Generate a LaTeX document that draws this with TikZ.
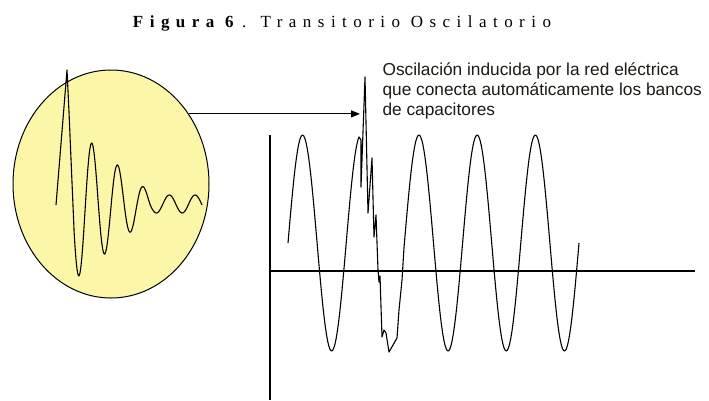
\documentclass[tikz,border=0pt]{standalone}
\usepackage{fontspec}
\setmainfont{Liberation Serif}
\newfontfamily\labelfont{Liberation Sans}
\newfontfamily\titlefont[LetterSpace=38]{Liberation Serif}
\usetikzlibrary{positioning,shapes.geometric,arrows.meta}
\definecolor{bubblefill}{RGB}{252,247,168}
\definecolor{labeltext}{RGB}{30,25,20}

\begin{document}
\begin{tikzpicture}[x=1pt,y=-1pt,line width=1.1pt,
  bubble/.style={ellipse,draw,line width=1pt,fill=bubblefill,minimum width=196pt,minimum height=228pt,inner sep=0pt},
  wave/.style={line width=1.1pt,line join=round},
  axisline/.style={line width=1.1pt},
  pointer/.style={line width=1pt,-{Triangle[length=9pt,width=7pt]}}]
  \useasboundingbox (0,0) rectangle (709,400);
  % title
  \node[anchor=base,inner sep=0pt] (title) at (342,27)
    {\fontsize{17}{19}\titlefont\textbf{Figura 6}\kern0.12em. Transitorio Oscilatorio};
  % zoomed view of the transient
  \node[bubble] (bubble) at (111,184) {};
  \draw[wave] (56,205) -- (67,70) -- (69,112) -- (74,229)
    -- plot[domain=74:202,samples=130] (\x,{204+max(9,66-0.85*(\x-86))*cos((\x-79)/25.8*360)});
  % axes
  \coordinate (origin) at (270,271);
  \coordinate (ytop) at (270,135);
  \coordinate (ybot) at (270,400);
  \coordinate (xend) at (695,271);
  \draw[axisline] (ytop) -- (ybot);
  \draw[axisline] (origin) -- (xend);
  % voltage wave with the switching transient
  \draw[wave] plot[domain=288:359,samples=60] (\x,{243-108*sin((\x-288)/58.2*360)})
    -- (361,140) -- (361,187) -- (365,77) -- (368,213) -- (372,158) -- (374,237)
    -- (376,215) -- (378,270) -- (379,282) -- (380,276) -- (382,337) -- (384,330)
    -- (386,333) -- (389,352) -- (393,345) -- (397,338) -- (399,310) -- (402,280)
    -- plot[domain=404:579,samples=150] (\x,{243-108*sin((\x-288)/58.2*360)});
  % label and pointer
  \coordinate (spike) at (360,111);
  \node[anchor=north west,inner sep=0pt,align=left,text=labeltext,
    font={\labelfont\fontsize{17.3}{20}\selectfont}] (note) at (382,62)
    {Oscilación inducida por la red eléctrica\\
     que conecta automáticamente los bancos\\
     de capacitores};
  \draw[pointer] (bubble.42) -- (bubble.42 -| spike);
\end{tikzpicture}
\end{document}
